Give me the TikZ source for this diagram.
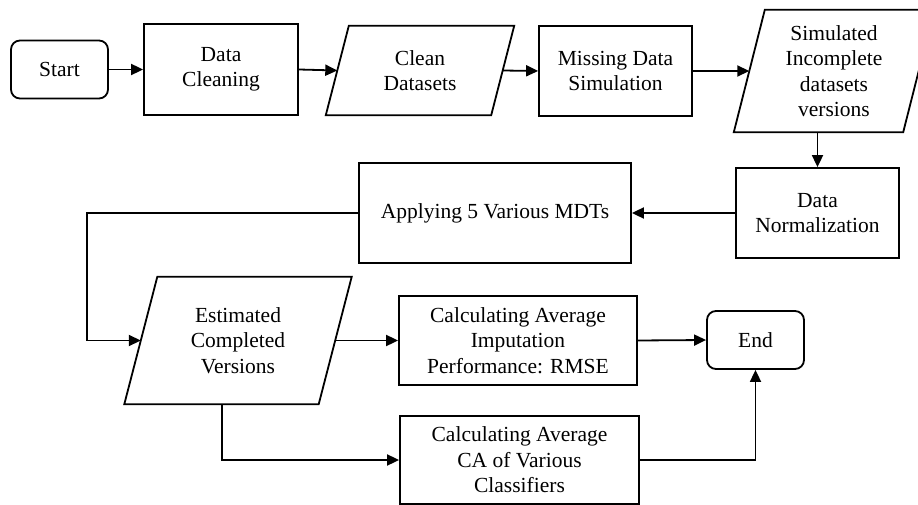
\documentclass[tikz,border=0pt]{standalone}
\usepackage{fontspec}
\setmainfont{Liberation Serif}
\usetikzlibrary{arrows.meta}
\begin{document}
\begin{tikzpicture}[x=1pt,y=-1pt,
  every node/.style={font=\fontsize{21.5}{25.5}\selectfont, align=center, inner sep=0pt},
  box/.style={draw, line width=1.8pt, minimum width=#1},
  term/.style={draw, line width=1.8pt, rounded corners=9pt, minimum width=97pt, minimum height=58pt},
  iobox/.style={minimum width=#1},
  flow/.style={line width=1.8pt, -{Triangle[length=12pt,width=11pt]}},
  edge/.style={line width=1.8pt, line join=miter}]
\useasboundingbox (0,0) rectangle (918,505);
\clip (0,0) rectangle (918,505);

% process steps
\node[term] (start) at (59.5,69.5) {Start};
\node[box=154pt, minimum height=91pt] (dclean) at (221,69.5) {Data\\Cleaning};
\node[iobox=165pt, minimum height=89pt] (clean) at (420,70.5) {Clean\\Datasets};
\node[box=153pt, minimum height=90pt] (miss) at (615.5,71) {Missing Data\\Simulation};
\node[iobox=169pt, minimum height=122pt] (sim) at (834,71) {Simulated\\Incomplete\\datasets\\versions};
\node[box=163pt, minimum height=90pt] (norm) at (817.5,213) {Data\\Normalization};
\node[box=272pt, minimum height=100pt] (apply) at (495,213) {Applying 5 Various MDTs};
\node[iobox=194pt, minimum height=127pt] (est) at (238,340.5) {Estimated\\Completed\\Versions};
\node[box=238pt, minimum height=89pt] (imp) at (518,340.5) {Calculating Average\\Imputation\\Performance: RMSE};
\node[term] (endn) at (755.5,340) {End};
\node[box=239pt, minimum height=88pt] (ca) at (519.5,460) {Calculating Average\\CA of Various\\Classifiers};

% slanted data shapes
\draw[edge] ([xshift=11.5]clean.north west) -- ([xshift=11.5]clean.north east)
  -- ([xshift=-11.5]clean.south east) -- ([xshift=-11.5]clean.south west) -- cycle;
\draw[edge] ([xshift=15.5]sim.north west) -- ([xshift=15.5]sim.north east)
  -- ([xshift=-15.5]sim.south east) -- ([xshift=-15.5]sim.south west) -- cycle;
\draw[edge] ([xshift=16.5]est.north west) -- ([xshift=16.5]est.north east)
  -- ([xshift=-16.5]est.south east) -- ([xshift=-16.5]est.south west) -- cycle;

% connectors
\coordinate (loop) at (87,0);
\coordinate (estout) at ([xshift=-16]est.south);
\draw[flow] (start.east) -- (dclean.west);
\draw[flow] (dclean.east) -- (clean.west);
\draw[flow] (clean.east) -- (miss.west);
\draw[flow] (miss.east) -- (sim.west);
\draw[flow] (norm.north |- sim.south) -- (norm.north);
\draw[flow] (norm.west) -- (apply.east);
\draw[flow] (apply.west) -- (apply.west -| loop) |- (est.west);
\draw[flow] (est.east) -- (imp.west);
\draw[flow] (imp.east) -- (endn.west);
\draw[flow] (estout) |- (ca.west);
\draw[flow] (ca.east) -| (endn.south);
\end{tikzpicture}
\end{document}
